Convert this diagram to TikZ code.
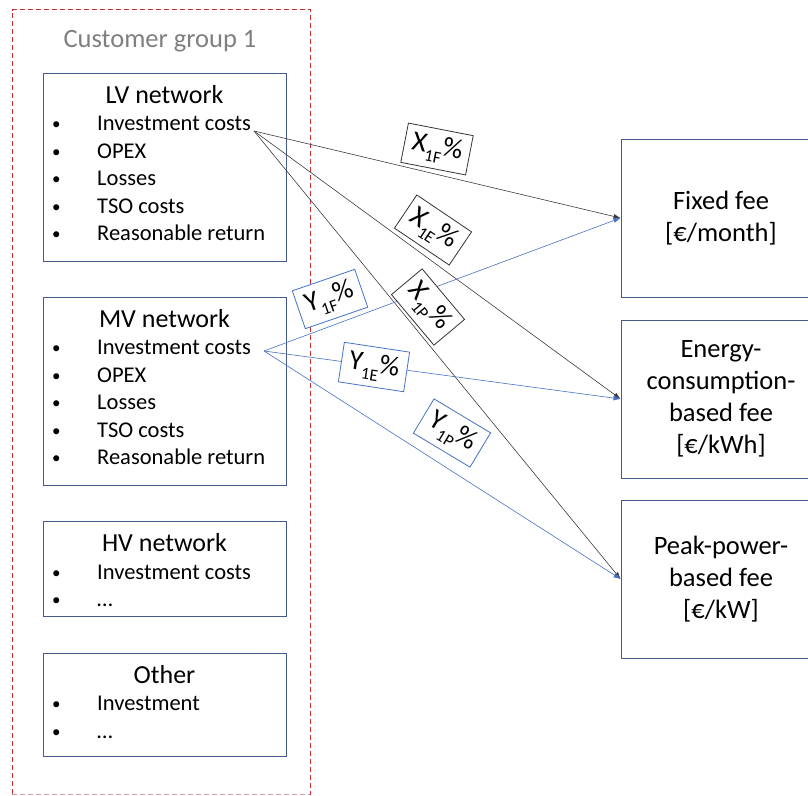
\documentclass[tikz,border=0pt]{standalone}
\usepackage{fontspec}
\setmainfont{Carlito}
\usetikzlibrary{arrows.meta}

\definecolor{boxline}{RGB}{68,90,140}
\definecolor{mvblue}{RGB}{68,114,196}
\definecolor{framered}{RGB}{205,45,45}
\definecolor{framepink}{RGB}{205,160,160}
\definecolor{titlegrey}{RGB}{127,127,127}
\definecolor{lvline}{RGB}{60,60,60}

\tikzset{
  groupframe/.style={draw=framered, line width=0.75pt, dash pattern=on 5pt off 3pt, inner sep=0},
  costbox/.style={draw=boxline, line width=0.9pt, minimum width=243pt, inner sep=0, anchor=north west},
  boxtitle/.style={anchor=base, inner sep=0, font=\fontsize{26}{30}\selectfont},
  costitem/.style={anchor=base west, inner sep=0, font=\fontsize{22.5}{27.5}\selectfont},
  feebox/.style={draw=boxline, line width=0.9pt, minimum width=200pt, minimum height=158pt,
    inner sep=0, align=center, font=\fontsize{26.5}{32}\selectfont},
  lvflow/.style={draw=lvline, line width=0.6pt, -{Latex[length=7pt,width=5pt]}},
  mvflow/.style={draw=mvblue, line width=0.6pt, -{Latex[length=7pt,width=5pt]}},
  share/.style={fill=white, line width=0.8pt, minimum width=66pt, minimum height=40pt,
    inner sep=0, font=\fontsize{28}{28}\selectfont},
  xshare/.style={share, draw=black!80},
  yshare/.style={share, draw=mvblue},
}
\newcommand\bitem[1]{\makebox[45pt][l]{\raisebox{1pt}{\fontsize{17}{17}\selectfont\textbullet}}#1}
\newcommand\shareof[2]{#1\raisebox{-0.3em}{\fontsize{17}{17}\selectfont #2}\%}

\begin{document}
\begin{tikzpicture}[x=1pt, y=-1pt]
\useasboundingbox (0,0) rectangle (808,795);

% customer group frame
\node[groupframe, minimum width=298pt, minimum height=784.5pt] (group) at (161,401.75) {};
\draw[framepink, line width=0.75pt, dash pattern=on 5pt off 3pt] (group.south west) -- (group.south east);
\node[anchor=base, inner sep=0, text=titlegrey, font=\fontsize{26.5}{30}\selectfont] (grouptitle) at (160,47) {Customer group 1};

% LV network
\node[costbox, minimum height=188pt] (lv) at (43,73) {};
\node[boxtitle] (lv-t) at (164.5,103) {LV network};
\foreach \t [count=\k] in {Investment costs, OPEX, Losses, TSO costs, Reasonable return}
  \node[costitem] (lv-\k) at (52,{130.5+27.5*(\k-1)}) {\bitem{\t}};

% MV network
\node[costbox, minimum height=188pt] (mv) at (43,297) {};
\node[boxtitle] (mv-t) at (164.5,327) {MV network};
\foreach \t [count=\k] in {Investment costs, OPEX, Losses, TSO costs, Reasonable return}
  \node[costitem] (mv-\k) at (52,{354.5+27.5*(\k-1)}) {\bitem{\t}};

% HV network
\node[costbox, minimum height=95pt] (hv) at (43,521) {};
\node[boxtitle] (hv-t) at (164.5,551) {HV network};
\foreach \t [count=\k] in {Investment costs, \dots}
  \node[costitem] (hv-\k) at (52,{579+27.5*(\k-1)}) {\bitem{\t}};

% other costs
\node[costbox, minimum height=103pt] (oth) at (43,653) {};
\node[boxtitle] (oth-t) at (164.5,683) {Other};
\foreach \t [count=\k] in {Investment, \dots}
  \node[costitem] (oth-\k) at (52,{710.5+27.5*(\k-1)}) {\bitem{\t}};

% tariff components
\node[feebox] (fixed) at (721,218) {Fixed fee\\{[€/month]}};
\node[feebox] (energy) at (721,399) {Energy-\\consumption-\\based fee\\{[€/kWh]}};
\node[feebox] (peak) at (721,579) {Peak-power-\\based fee\\{[€/kW]}};

% allocation flows
\coordinate (lvsrc) at (254,131);
\coordinate (mvsrc) at (264,351);
\draw[lvflow] (lvsrc) -- (fixed.west);
\draw[lvflow] (lvsrc) -- (energy.west);
\draw[lvflow] (lvsrc) -- (peak.west);
\draw[mvflow] (mvsrc) -- (fixed.west);
\draw[mvflow] (mvsrc) -- (energy.west);
\draw[mvflow] (mvsrc) -- (peak.west);

% allocation shares
\node[xshare, rotate=-11] (x1f) at (437,149) {\shareof{X}{1F}};
\node[xshare, rotate=-34] (x1e) at (433,230) {\shareof{X}{1E}};
\node[xshare, rotate=-50] (x1p) at (428,307) {\shareof{X}{1P}};
\node[yshare, rotate=19] (y1f) at (330,299) {\shareof{Y}{1F}};
\node[yshare, rotate=-8.6] (y1e) at (374,367) {\shareof{Y}{1E}};
\node[yshare, rotate=-31] (y1p) at (452,433) {\shareof{Y}{1P}};
\end{tikzpicture}
\end{document}
